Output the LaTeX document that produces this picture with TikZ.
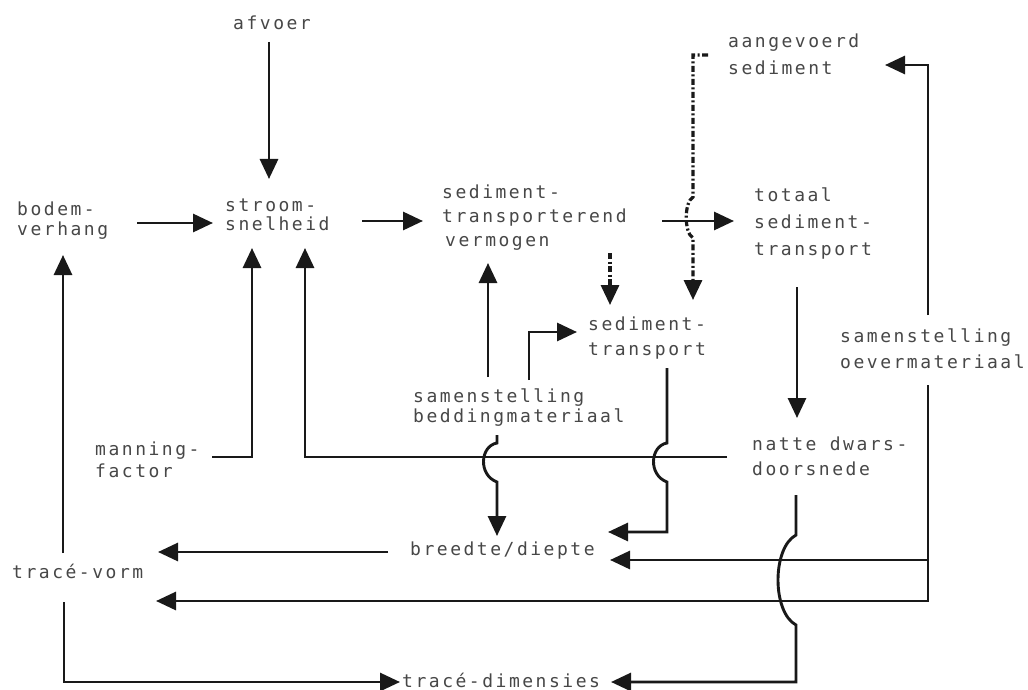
\documentclass[tikz,border=0pt]{standalone}
\usepackage{fontspec}
\newfontfamily\labfont[LetterSpace=14]{DejaVu Sans Mono}
\usetikzlibrary{arrows.meta}
\tikzset{
  lab/.style={anchor=base west, inner sep=0pt, align=left, text=black!72,
    font=\labfont\fontsize{18}{#1}\selectfont},
  lab/.default=24,
  ln/.style={line width=2.9pt, draw=black!90},
  tip/.style={-{Triangle[length=20pt,width=18pt]}},
  arr/.style={ln, tip},
  dd/.style={line width=3.2pt, draw=black!90, tip, dash pattern=on 6pt off 2.5pt on 2pt off 2.5pt}
}
\begin{document}
\begin{tikzpicture}[x=1pt,y=-1pt]
\fill[white] (0,0) rectangle (1028,690);
\useasboundingbox (0,0) rectangle (1028,690);

% nodes (anchored at the baseline of their last line)
\node[lab] (afvoer) at (233,30) {afvoer};
\node[lab=20] (bodem) at (17,235) {bodem-\\verhang};
\node[lab=19] (stroom) at (225,230) {stroom-\\snelheid};
\node[lab=24] (vermogen) at (442,246) {sediment-\\transporterend\\\hspace*{3pt}vermogen};
\node[lab=27] (aangevoerd) at (728,75) {aangevoerd\\sediment};
\node[lab=27] (totaal) at (754,255) {totaal\\sediment-\\transport};
\node[lab=25] (sedtr) at (588,355) {sediment-\\transport};
\node[lab=26] (oever) at (840,368) {samenstelling\\oevermateriaal};
\node[lab=20] (bedding) at (413,422) {samenstelling\\beddingmateriaal};
\node[lab=22] (manning) at (95,477) {manning-\\factor};
\node[lab=25] (natte) at (752,475) {natte dwars-\\doorsnede};
\node[lab] (breedte) at (410,555) {breedte/diepte};
\node[lab] (vorm) at (12,578) {tracé-vorm};
\node[lab] (dim) at (402,687) {tracé-dimensies};

% connectors
\draw[arr] (269,42) -- (269,179);
\draw[arr] (137,223) -- (213,223);
\draw[arr] (362,221) -- (423,221);
\draw[arr] (662,221) -- (734,221);
\draw[arr] (797,287) -- (797,418);

% dash-dot from aangevoerd sediment
\draw[dd] (708,55) -- (693,55) -- (693,197)
  .. controls (684,202) and (684,233) .. (693,238) -- (693,300);
\draw[dd] (610,253) -- (610,305);

% samenstelling beddingmateriaal
\draw[arr] (488,377) -- (488,263);
\draw[arr] (529,380) -- (529,332) -- (577,332);
\draw[arr] (497,435) -- (497,443)
  .. controls (480,446) and (478,475) .. (497,482) -- (497,536);

% sediment-transport -> breedte/diepte
\draw[arr] (667,368) -- (667,443)
  .. controls (650,446) and (648,475) .. (667,482) -- (667,532) -- (608,532);

% manning-factor and natte dwarsdoorsnede -> stroomsnelheid
\draw[arr] (212,457) -- (252,457) -- (252,248);
\draw[arr] (727,457) -- (305,457) -- (305,248);

% samenstelling oevermateriaal
\draw[arr] (928,315) -- (928,65) -- (885,65);
\draw[arr] (928,385) -- (928,601) -- (156,601);
\draw[arr] (928,560) -- (610,560);

% natte dwarsdoorsnede -> trace-dimensies
\draw[arr] (796,495) -- (796,535)
  .. controls (772,548) and (772,612) .. (796,625) -- (796,682) -- (611,682);

% breedte/diepte -> trace-vorm
\draw[arr] (388,552) -- (158,552);

% trace-vorm
\draw[arr] (63,553) -- (63,255);
\draw[arr] (64,602) -- (64,682) -- (400,682);
\end{tikzpicture}
\end{document}
